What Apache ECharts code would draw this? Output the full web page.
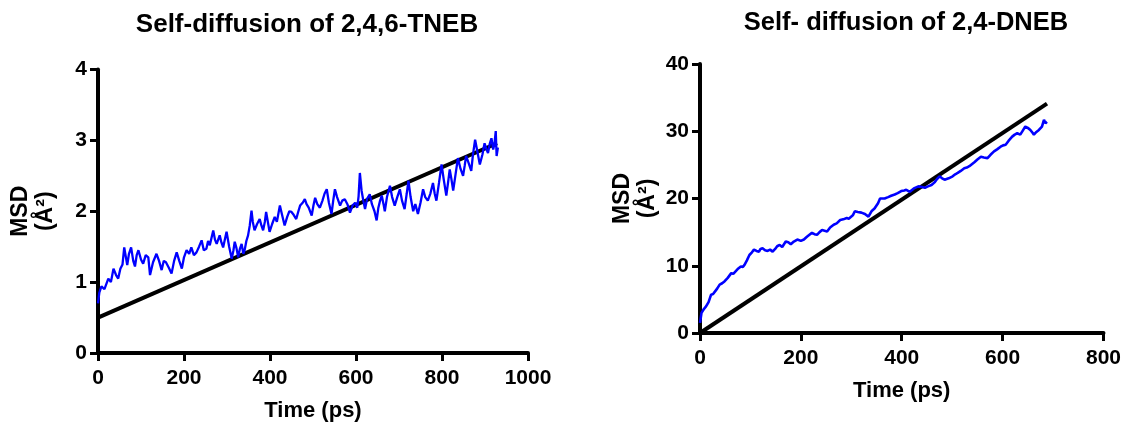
<!DOCTYPE html>
<html>
<head>
<meta charset="utf-8">
<script src="https://cdn.jsdelivr.net/npm/echarts@6/dist/echarts.min.js"></script>
<style>
html,body{margin:0;padding:0;background:#fff;}
#chart{width:1124px;height:427px;}
</style>
</head>
<body>
<div id="chart"></div>
<script>
// ---- Left panel: 2,4,6-TNEB ----
const leftTime = [0,3,8,15,24,30,36,42,47,52,57,61,68,72,77,82,86,90,94,100,105,111,117,121,128,136,142,148,153,158,165,171,177,183,189,195,200,206,212,217,223,229,235,241,246,252,256,260,268,272,276,283,287,291,295,299,305,311,315,318,322,326,330,334,338,341,345,349,353,357,360,364,370,376,380,384,388,391,395,399,405,411,416,423,428,434,440,445,450,455,461,466,470,476,481,485,490,497,501,505,510,516,522,527,532,537,543,547,551,556,563,568,574,580,586,592,598,603,606,609,613,617,621,626,632,637,643,648,652,656,660,664,667,672,679,684,690,696,702,707,713,718,722,727,733,738,744,750,756,761,767,773,779,783,787,793,799,804,810,814,818,822,826,831,837,843,849,853,856,862,868,872,877,882,888,894,899,903,907,911,915,919,922,925,927,930];
const leftMSD = [0.70,0.85,0.94,0.90,1.05,1.00,1.19,1.10,1.05,1.19,1.25,1.49,1.24,1.40,1.49,1.30,1.22,1.38,1.45,1.32,1.26,1.38,1.35,1.10,1.28,1.40,1.30,1.17,1.30,1.28,1.20,1.12,1.30,1.42,1.30,1.19,1.35,1.45,1.40,1.49,1.38,1.42,1.50,1.59,1.45,1.47,1.58,1.52,1.73,1.60,1.54,1.66,1.56,1.49,1.60,1.71,1.50,1.33,1.45,1.57,1.48,1.35,1.47,1.54,1.40,1.45,1.58,1.66,1.80,2.01,1.85,1.73,1.82,1.89,1.80,1.73,1.85,1.99,1.85,1.71,1.82,1.92,1.85,2.08,1.95,1.80,1.92,2.00,1.99,1.95,1.89,2.00,2.08,2.12,2.17,2.10,2.05,1.94,2.08,2.19,2.10,2.05,2.15,2.25,2.31,2.12,1.96,2.15,2.31,2.20,2.08,2.15,2.17,2.10,1.98,2.08,2.12,2.05,2.21,2.54,2.29,2.15,2.03,2.18,2.24,2.10,2.00,1.87,2.05,2.15,2.22,2.10,2.00,2.20,2.36,2.20,2.08,2.20,2.31,2.15,2.03,2.25,2.43,2.20,2.00,2.10,1.96,2.12,2.31,2.20,2.15,2.25,2.40,2.25,2.15,2.40,2.66,2.45,2.22,2.40,2.59,2.45,2.29,2.50,2.75,2.60,2.50,2.65,2.78,2.68,2.57,2.80,3.01,2.85,2.66,2.80,2.96,2.88,2.82,2.95,3.03,2.87,2.95,3.13,2.78,2.90];
const leftFitTime = [0, 928];
const leftFitMSD = [0.5, 2.96];
const leftXTicks = {min:0, max:1000, interval:200};
const leftYTicks = {min:0, max:4, interval:1};

// ---- Right panel: 2,4-DNEB ----
const rightTime = [0,3,8,12,17,22,26,29,34,39,44,49,55,62,66,71,76,81,85,88,93,98,103,107,112,117,120,124,129,134,139,144,149,153,158,163,170,175,180,186,193,200,206,212,217,222,227,232,237,242,247,252,258,265,271,278,284,291,295,298,303,307,313,320,327,334,340,346,353,357,360,366,373,379,386,392,399,405,409,416,424,433,440,446,452,459,465,470,475,480,485,493,501,506,511,517,524,529,534,539,544,550,557,563,570,576,583,589,596,601,606,612,619,624,629,635,640,645,650,655,659,662,667,672,678,682,685,688];
const rightMSD = [1.5,3.0,3.6,3.95,4.6,5.7,5.8,5.9,6.6,7.2,7.4,7.7,8.2,8.9,8.8,9.2,9.6,9.9,9.8,10.1,10.8,11.6,12.0,12.4,12.2,12.1,12.5,12.6,12.3,12.2,12.4,12.1,12.5,12.9,13.1,12.8,13.6,13.5,13.2,13.6,13.9,13.7,13.9,14.3,14.6,14.9,14.7,14.6,15.0,15.3,15.2,15.1,15.7,16.1,16.3,16.8,16.9,17.1,17.0,16.8,17.5,18.1,18.0,17.9,17.7,17.3,18.1,18.5,19.3,20.0,20.1,20.0,20.2,20.4,20.6,20.8,21.1,21.2,21.3,21.0,21.5,21.8,21.7,21.6,21.8,22.0,22.4,22.9,23.3,23.0,22.8,23.0,23.3,23.6,23.8,24.1,24.5,24.6,24.8,25.1,25.4,25.8,26.2,26.1,26.0,26.5,27.0,27.3,27.7,27.9,28.0,28.6,29.2,29.5,29.7,29.5,30.1,30.7,30.5,30.2,29.8,29.5,29.9,30.2,30.7,31.7,31.2,31.4];
const rightFitTime = [0, 688];
const rightFitMSD = [0, 34.1];
const rightXTicks = {min:0, max:800, interval:200};
const rightYTicks = {min:0, max:40, interval:10};

const titles = ['Self-diffusion of 2,4,6-TNEB', 'Self- diffusion of 2,4-DNEB'];
const xName = 'Time (ps)';
const yName = 'MSD\n(Å²)';

const FONT = '"Liberation Sans", Arial, Helvetica, sans-serif';
const zip = (a, b) => a.map((v, i) => [v, b[i]]);
const plain = v => String(v);

function xAxisCfg(gridIndex, ticks, labelSize, gap, margin) {
  return {
    type: 'value', gridIndex, min: ticks.min, max: ticks.max, interval: ticks.interval,
    name: xName, nameLocation: 'middle', nameGap: gap,
    nameTextStyle: {fontFamily: FONT, fontWeight: 'bold', fontSize: 22, color: '#000'},
    axisLine: {show: true, onZero: false, lineStyle: {color: '#000', width: 4}},
    axisTick: {show: true, inside: false, length: 8, lineStyle: {color: '#000', width: 3}},
    axisLabel: {fontFamily: FONT, fontWeight: 'bold', fontSize: labelSize, color: '#000', margin, formatter: plain},
    splitLine: {show: false}
  };
}
function yAxisCfg(gridIndex, ticks, labelSize, gap) {
  return {
    type: 'value', gridIndex, min: ticks.min, max: ticks.max, interval: ticks.interval,
    name: yName, nameLocation: 'middle', nameGap: gap, nameRotate: 90,
    nameTextStyle: {fontFamily: FONT, fontWeight: 'bold', fontSize: 23, color: '#000', lineHeight: 25},
    axisLine: {show: true, onZero: false, lineStyle: {color: '#000', width: 4}},
    axisTick: {show: true, inside: false, length: 8, lineStyle: {color: '#000', width: 3}},
    axisLabel: {fontFamily: FONT, fontWeight: 'bold', fontSize: labelSize, color: '#000', margin: 11, formatter: plain},
    splitLine: {show: false}
  };
}

const chart = echarts.init(document.getElementById('chart'), null, {renderer: 'canvas'});
chart.setOption({
  animation: false,
  backgroundColor: '#fff',
  title: [
    {text: titles[0], left: 302, top: 7, textAlign: 'center',
     textStyle: {fontFamily: FONT, fontWeight: 'bold', fontSize: 26, color: '#000'}},
    {text: titles[1], left: 901, top: 5, textAlign: 'center',
     textStyle: {fontFamily: FONT, fontWeight: 'bold', fontSize: 25.5, color: '#000'}}
  ],
  grid: [
    {left: 98, right: 596, top: 69.5, bottom: 72, containLabel: false},
    {left: 700, right: 17, top: 64, bottom: 94, containLabel: false}
  ],
  xAxis: [xAxisCfg(0, leftXTicks, 21, 47, 15), xAxisCfg(1, rightXTicks, 21, 47, 15)],
  yAxis: [yAxisCfg(0, leftYTicks, 21, 40), yAxisCfg(1, rightYTicks, 21, 40)],
  series: [
    {type: 'line', xAxisIndex: 0, yAxisIndex: 0, data: zip(leftFitTime, leftFitMSD),
     showSymbol: false, lineStyle: {color: '#000', width: 4}, z: 2},
    {type: 'line', xAxisIndex: 0, yAxisIndex: 0, data: zip(leftTime, leftMSD),
     showSymbol: false, lineStyle: {color: '#0000ff', width: 2.3}, z: 3},
    {type: 'line', xAxisIndex: 1, yAxisIndex: 1, data: zip(rightFitTime, rightFitMSD),
     showSymbol: false, lineStyle: {color: '#000', width: 4}, z: 2},
    {type: 'line', xAxisIndex: 1, yAxisIndex: 1, data: zip(rightTime, rightMSD),
     showSymbol: false, lineStyle: {color: '#0000ff', width: 2.6}, z: 3}
  ]
});
</script>
</body>
</html>
